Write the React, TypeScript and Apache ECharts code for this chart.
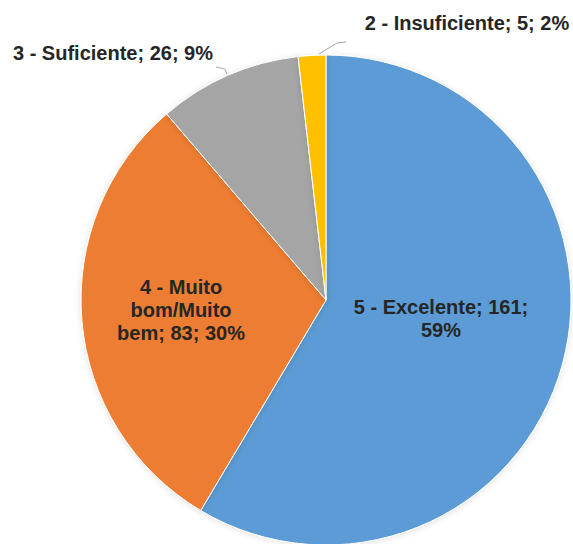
import React, { useEffect, useRef } from "react";
import * as echarts from "echarts";

const categories = ["5 - Excelente", "4 - Muito bom/Muito bem", "3 - Suficiente", "2 - Insuficiente"];
const counts = [161, 83, 26, 5];
const colors = ["#5B9BD5", "#ED7D31", "#A5A5A5", "#FFC000"];
const labelInside = [true, true, false, false];

const FONT = "bold 20px 'Liberation Sans', Arial, sans-serif";

function wrap(text: string, maxWidth: number): string {
  const canvas = document.createElement("canvas");
  const ctx = canvas.getContext("2d");
  if (!ctx) return text;
  ctx.font = FONT;
  const words = text.split(" ");
  const lines: string[] = [];
  let cur = "";
  for (const w of words) {
    const test = cur ? cur + " " + w : w;
    if (cur && ctx.measureText(test).width > maxWidth) {
      lines.push(cur);
      cur = w;
    } else {
      cur = test;
    }
  }
  if (cur) lines.push(cur);
  return lines.join("\n");
}

export default function App() {
  const ref = useRef<HTMLDivElement>(null);
  useEffect(() => {
    if (!ref.current) return;
    const chart = echarts.init(ref.current, undefined, { renderer: "svg" });
    const total = counts.reduce((a, b) => a + b, 0);
    const labelPos: Record<number, [number, number]> = {
      0: [441, 318],
      1: [181, 310],
      2: [113, 53],
      3: [467, 23],
    };
    const linePts: Record<number, number[][]> = {
      2: [[227, 74], [225, 69], [216, 67]],
      3: [[319, 54], [337, 43], [346, 42]],
    };
    const labelWidths = [180, 132, 400, 400];
    const data = categories.map((name, i) => ({
      name,
      value: counts[i],
      itemStyle: { color: colors[i] },
      label: {
        position: labelInside[i] ? "inside" : "outside",
      },
      labelLine: {
        show: !labelInside[i],
        lineStyle: { color: "#A6A6A6", width: 1 },
      },
    }));
    chart.setOption({
      animation: false,
      backgroundColor: "#ffffff",
      series: [
        {
          type: "pie",
          center: [326, 300],
          radius: 245,
          startAngle: 90,
          clockwise: true,
          avoidLabelOverlap: false,
          itemStyle: {
            borderColor: "#ffffff",
            borderWidth: 1,
            shadowBlur: 6,
            shadowColor: "rgba(0,0,0,0.12)",
            shadowOffsetY: 1,
          },
          label: {
            show: true,
            fontFamily: "Liberation Sans, Arial, sans-serif",
            fontWeight: "bold",
            fontSize: 20,
            lineHeight: 23,
            color: "#262626",
            align: "center",
            formatter: (p: any) =>
              wrap(
                `${p.name}; ${p.value}; ${Math.round((p.value / total) * 100)}%`,
                labelWidths[p.dataIndex]
              ),
          },
          labelLayout: (params: any) => {
            const i = params.dataIndex;
            const pos = labelPos[i];
            const res: any = {
              x: pos[0],
              y: pos[1],
              align: "center",
              verticalAlign: "middle",
            };
            if (linePts[i]) res.labelLinePoints = linePts[i];
            return res;
          },
          data,
        },
      ],
    });
    return () => chart.dispose();
  }, []);
  return (
    <div
      ref={ref}
      style={{ position: "absolute", left: 0, top: 0, width: 573, height: 544 }}
    />
  );
}
